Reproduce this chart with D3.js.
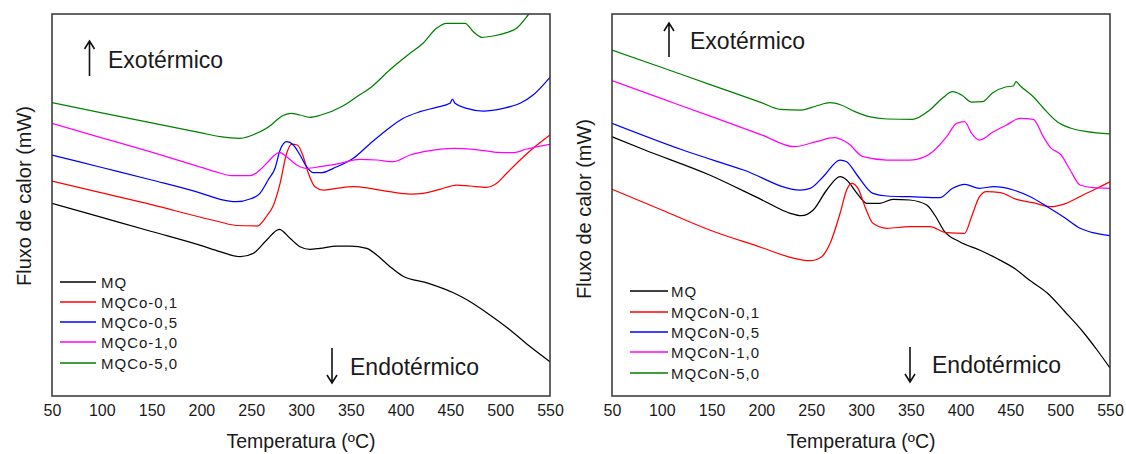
<!DOCTYPE html>
<html>
<head>
<meta charset="utf-8">
<script src="https://cdn.jsdelivr.net/npm/d3@7"></script>
<style>
  html, body { margin: 0; padding: 0; background: #fff; }
  svg { display: block; font-family: "Liberation Sans", Arial, Helvetica, sans-serif; }
</style>
</head>
<body>
<svg id="chart" width="1126" height="454"></svg>
<script>
// DSC curves, heat flow in relative units (mW, arbitrary offset) versus temperature (ºC)
const xTicks = [50, 100, 150, 200, 250, 300, 350, 400, 450, 500, 550];
const namesCo  = ["MQ", "MQCo-0,1", "MQCo-0,5", "MQCo-1,0", "MQCo-5,0"];
const namesCoN = ["MQ", "MQCoN-0,1", "MQCoN-0,5", "MQCoN-1,0", "MQCoN-5,0"];
const seriesColors = ["#000000", "#ff0000", "#0000ff", "#ff00ff", "#008000"];

// Cobalt series
const mqA = [[50,192.7],[100,178.6],[150,164.5],[200,150.3],[218.7,144.3],[238.8,139.3],[252.2,142.7],[265.6,156],[278.2,166.7],[289,157.7],[299,149.3],[309,146.7],[319,147.7],[335.8,150],[349.2,150],[366,147.7],[376,141],[389.4,129.3],[402,120],[428,112.7],[453,103.3],[467,96],[485,84.3],[510,66],[528,51],[550,34.3]];
const co01 = [[50,215],[100,203.1],[150,191.3],[200,178.5],[218.7,174],[235.4,170.5],[256,170],[265.6,180],[272,190],[279,212.7],[285.6,242.7],[290.6,252],[296.3,251],[302.3,239.3],[307.4,222.7],[314,209.3],[322.4,206],[335.8,207.7],[352.5,209.3],[369,207.7],[389,204.3],[409.5,202],[423,202.7],[439.6,206.7],[456.3,211],[469.7,210],[486.4,208.7],[496.5,212.7],[506.5,222.7],[520,236],[533,247.7],[550,261]];
const co05 = [[50,241],[100,228.5],[150,216],[200,202.7],[218.7,196.7],[235,194.3],[248.8,197],[258.8,202.7],[267,216],[274,228],[279,246],[285.6,254.3],[292.3,251],[299,241],[305.7,229.3],[312.3,223.3],[320.8,223.3],[332.5,227.7],[352.5,237.7],[369,252],[386,266],[402.7,277.7],[419.5,284.3],[436,288.7],[449.6,292.7],[452,297],[454.6,292.7],[466.4,287.7],[483,285],[503,287.7],[520,292.7],[533,301],[550,318.7]];
const co10 = [[50,272.7],[100,258.2],[150,243.8],[200,228.7],[218.7,223],[230,220.3],[248.8,220.3],[258.8,226],[267,234.3],[273,240.5],[278.2,243.7],[285.6,239.3],[295.7,231],[305.7,227.7],[319,229.3],[339,232.7],[359,236.7],[376,236],[392.7,234.3],[409.5,241],[429.5,245.3],[453,247.7],[473,246.7],[496.5,243.7],[513,243.3],[526.6,247],[550,251.7]];
const co50 = [[50,293.3],[100,283.2],[150,273.2],[200,263.1],[218.7,259.3],[238.8,257.7],[255.5,262.7],[270,271],[275.6,276],[281,280],[290,282.7],[299,281],[309,278.7],[320,281],[342,290],[356,299.3],[369,307.7],[389,326],[409.5,342.7],[422.5,352.7],[436,367.7],[446,372.7],[464.7,372.7],[473,364.3],[481.4,358.7],[493,360],[506.5,363.3],[516.5,367.7],[528,381],[536,392]];

// Cobalt nitrate series
const mqB = [[50,259.3],[83,246],[148,221],[200,196.4],[229,182.7],[240,180.3],[252,186],[265.6,206],[279,219.3],[285.6,216],[296,202.7],[305.7,192.7],[319,192.7],[332,196.7],[349,196],[366,191],[374,181],[384,164.3],[399,154.3],[419,146],[436,137.7],[455,127],[469,116],[487,103],[505,84],[523,64],[537,46],[550,28]];
const con01 = [[50,206.7],[100,186],[148,166],[200,148.5],[229,138.7],[249,135.3],[260.5,139.3],[269,152.7],[279,182.7],[285.6,206],[290.6,212.7],[297,207.7],[304,189.3],[312,172.7],[326,167.7],[349,169.3],[369,169.3],[386,163.3],[404,162.7],[411,179.3],[419,199.3],[426,204.3],[440,203.3],[456,196.7],[473,193.3],[490,189.3],[506,192.7],[523,201],[537,207.7],[550,214.3]];
const con05 = [[50,272.7],[121,246],[182,226],[239,206],[249,207.7],[262,219.3],[279,236],[285.6,234.3],[296,221],[312,202.7],[326,200],[349,199.3],[379,198.3],[392,207.7],[404,211.7],[419,207.7],[433,209.3],[453,206],[470,199.3],[487,189.3],[503,179.3],[520,167.7],[533,163.3],[550,160.3]];
const con10 = [[50,315.3],[100,297.3],[150,279.3],[200,261.2],[233,249.3],[255,254.3],[273,258.3],[287,252.7],[302,239.3],[326,236],[349,236],[356,236.7],[372,244.3],[386,259.3],[396,272.7],[404,274.3],[411,262.7],[419,256],[433,264.3],[446,271],[460,277.7],[473,276.7],[483,259.3],[490,248.7],[501,241],[510,226],[520,211],[533,208.3],[550,207.7]];
const con50 = [[50,346],[100,328.5],[150,310.9],[200,293.4],[219,286.7],[240,286],[255,290],[269,293.3],[280,291],[294,284.3],[308,279.3],[326,277],[352,276.7],[369,286],[382,298],[392,304.3],[401,301],[411,294],[422,294.3],[432,303],[445,309],[453,310],[455.6,314.3],[460,310],[473,299.3],[483,288],[497,274.3],[510,268],[527,264.3],[550,262]];

const panels = [
  { id: "co",  left: 52,  right: 550,  names: namesCo,  series: [mqA, co01, co05, co10, co50],
    yTitleY: 196, yTitleX: 31,
    legend: { x0: 60, x1: 96, tx: 101, y: [282, 302, 322, 342, 363] },
    exo: { ax: 89.5, tx: 108, ty: 68, a0: 41, a1: 76 },
    endo: { ax: 332, tx: 350, ty: 375, a0: 348, a1: 383 } },
  { id: "con", left: 612, right: 1110, names: namesCoN, series: [mqB, con01, con05, con10, con50],
    yTitleY: 209, yTitleX: 591,
    legend: { x0: 630, x1: 668, tx: 671, y: [291, 312, 332, 352, 373] },
    exo: { ax: 669, tx: 690, ty: 49, a0: 23, a1: 57 },
    endo: { ax: 910, tx: 932, ty: 373, a0: 347, a1: 382 } }
];

const plotTop = 14, plotBottom = 396;
const svg = d3.select("#chart");
const textColor = "#1a1a1a";

panels.forEach(p => {
  const x = d3.scaleLinear().domain([50, 550]).range([p.left, p.right]);
  const y = d3.scaleLinear().domain([0, plotBottom - plotTop]).range([plotBottom, plotTop]);

  svg.append("clipPath").attr("id", "clip-" + p.id)
    .append("rect").attr("x", p.left).attr("y", plotTop)
    .attr("width", p.right - p.left).attr("height", plotBottom - plotTop);

  const line = d3.line()
    .x(d => x(d[0])).y(d => y(d[1]))
    .curve(d3.curveMonotoneX);

  const g = svg.append("g").attr("clip-path", `url(#clip-${p.id})`);
  p.series.forEach((s, i) => {
    g.append("path").datum(s)
      .attr("d", line)
      .attr("fill", "none")
      .attr("stroke", seriesColors[i])
      .attr("stroke-width", 1.25)
      .attr("stroke-linejoin", "round");
  });

  // frame
  svg.append("rect")
    .attr("x", p.left).attr("y", plotTop)
    .attr("width", p.right - p.left).attr("height", plotBottom - plotTop)
    .attr("fill", "none").attr("stroke", "#333").attr("stroke-width", 1.5);

  // x axis labels (no tick marks)
  const axis = d3.axisBottom(x).tickValues(xTicks).tickSize(0).tickPadding(0).tickFormat(d3.format("d"));
  const ax = svg.append("g").attr("transform", `translate(0,${plotBottom})`).call(axis);
  ax.select(".domain").remove();
  ax.selectAll("text")
    .attr("y", 20).attr("dy", null)
    .attr("font-size", 16)
    .attr("fill", textColor);
  ax.attr("font-family", null).attr("font-size", null);

  svg.append("text")
    .attr("x", (p.left + p.right) / 2).attr("y", 448)
    .attr("text-anchor", "middle").attr("font-size", 19.5).attr("fill", textColor)
    .text("Temperatura (ºC)");

  svg.append("text")
    .attr("transform", `translate(${p.yTitleX},${p.yTitleY}) rotate(-90)`)
    .attr("text-anchor", "middle").attr("font-size", 20).attr("fill", textColor)
    .text("Fluxo de calor (mW)");

  // legend
  p.names.forEach((n, i) => {
    const ly = p.legend.y[i];
    svg.append("line")
      .attr("x1", p.legend.x0).attr("x2", p.legend.x1)
      .attr("y1", ly).attr("y2", ly)
      .attr("stroke", seriesColors[i]).attr("stroke-width", 1.5);
    svg.append("text")
      .attr("x", p.legend.tx).attr("y", ly + 5.5)
      .attr("font-size", 15).attr("letter-spacing", 1).attr("fill", textColor)
      .text(n);
  });

  // direction annotations
  const arrow = (ax0, yTail, yHead) => {
    const dir = yHead < yTail ? 1 : -1;
    svg.append("path")
      .attr("d", `M${ax0},${yTail}V${yHead}M${ax0 - 5},${yHead + dir * 8}L${ax0},${yHead}L${ax0 + 5},${yHead + dir * 8}`)
      .attr("fill", "none").attr("stroke", "#111").attr("stroke-width", 1.6);
  };
  arrow(p.exo.ax, p.exo.a1, p.exo.a0);
  svg.append("text").attr("x", p.exo.tx).attr("y", p.exo.ty)
    .attr("font-size", 23).attr("fill", textColor).text("Exotérmico");
  arrow(p.endo.ax, p.endo.a0, p.endo.a1);
  svg.append("text").attr("x", p.endo.tx).attr("y", p.endo.ty)
    .attr("font-size", 23).attr("fill", textColor).text("Endotérmico");
});
</script>
</body>
</html>
